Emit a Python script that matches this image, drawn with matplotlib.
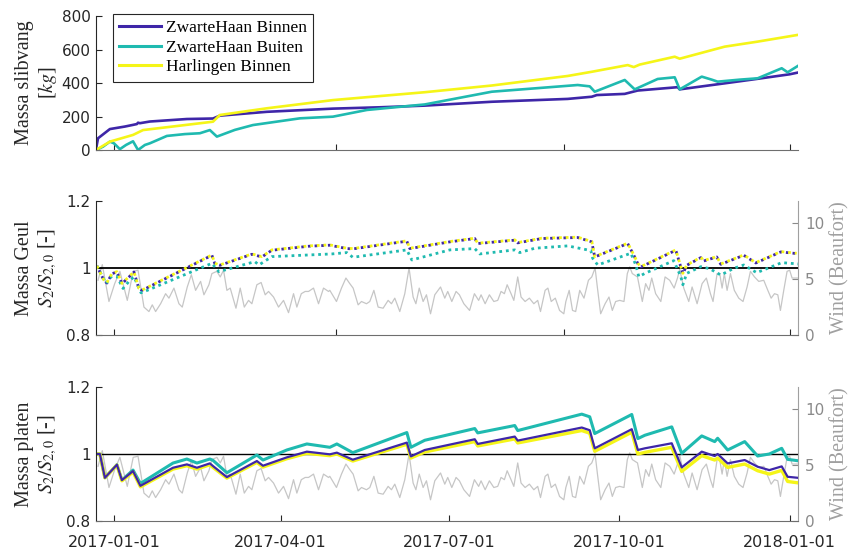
import numpy as np
import pandas as pd
import matplotlib
matplotlib.use('Agg')
import matplotlib.pyplot as plt

# ---------------- data (days since 2017-01-01) ----------------
mass_days_binnen = [-9.7, -8.6, -2.2, 5.9, 10.3, 12.4, 13.0, 14.0, 19.4, 39.4, 53.5, 57.2, 82.6, 118.3,
                    143.6, 167.9, 204.1, 245.1, 258.1, 260.8, 275.9, 282.9, 304.5, 305.6, 316.4, 329.9,
                    347.7, 365.0, 369.3]
mass_binnen = [5, 70, 125, 140, 150, 155, 163, 160, 170, 185, 188, 205, 228, 247,
               255, 265, 288, 305, 318, 328, 335, 355, 375, 362, 378, 398, 425, 452, 462]

mass_days_buiten = [-9.7, -5.9, -2.2, 0, 3.2, 6.5, 10.3, 13.0, 16.7, 19.4, 28.6, 38.3, 46.4, 51.8, 55.6,
                    65.3, 75.1, 100.4, 118.3, 136.6, 167.9, 204.1, 250.5, 257.0, 259.7, 275.9, 281.3,
                    293.7, 302.9, 305.6, 317.5, 322.9, 326.1, 338.0, 347.7, 360.7, 363.9, 369.3]
mass_buiten = [0, 20, 50, 40, 5, 30, 52, 0, 30, 40, 84, 95, 100, 119, 80,
               120, 149, 189, 199, 239, 272, 348, 388, 380, 348, 418, 362,
               424, 434, 362, 438, 420, 408, 420, 428, 488, 464, 501]

mass_days_harl = [-9.7, -2.2, 10.3, 15.7, 53.5, 57.2, 82.6, 118.3, 167.9, 204.1, 245.1, 258.1, 277.5,
                  280.8, 284.0, 302.9, 305.6, 329.9, 347.7, 369.3]
mass_harl = [0, 50, 90, 119, 169, 209, 249, 298, 345, 385, 442, 467, 507,
             495, 510, 557, 545, 617, 647, 687]

geul_days = [-9.2, -5.4, -3.8, -1.1, 1.6, 4.3, 8.1, 10.8, 13.5, 15.1, 52.9, 54.5, 57.2, 74.5, 79.9,
             85.3, 105.3, 116.6, 125.8, 129.0, 158.2, 159.8, 181.4, 194.9, 196.5, 216.5, 218.1, 231.1,
             250.5, 258.1, 259.7, 277.5, 280.8, 283.0, 284.6, 303.5, 306.2, 307.3, 309.4, 317.0, 318.6,
             325.6, 327.8, 340.2, 346.7, 360.2, 368.8]
geul_harl = [1.006, 0.964, 0.956, 0.984, 0.989, 0.954, 0.974, 0.989, 0.939, 0.934, 1.039, 1.014, 1.009,
             1.042, 1.034, 1.054, 1.066, 1.069, 1.059, 1.058, 1.081, 1.059, 1.079, 1.089, 1.074, 1.084,
             1.076, 1.089, 1.092, 1.079, 1.034, 1.074, 1.039, 1.014, 1.004, 1.054, 1.004, 0.984, 1.009,
             1.032, 1.022, 1.034, 1.012, 1.039, 1.016, 1.049, 1.044]
geul_binnen = [1.006, 0.963, 0.955, 0.983, 0.988, 0.953, 0.973, 0.988, 0.938, 0.933, 1.038, 1.013, 1.008,
               1.041, 1.033, 1.053, 1.065, 1.068, 1.058, 1.057, 1.080, 1.058, 1.078, 1.088, 1.073, 1.083,
               1.075, 1.088, 1.091, 1.078, 1.033, 1.073, 1.038, 1.013, 1.003, 1.053, 1.003, 0.983, 1.008,
               1.031, 1.021, 1.033, 1.011, 1.038, 1.015, 1.048, 1.043]

geul_days_buiten = [-9.2, -4.3, -1.1, 1.6, 4.9, 8.1, 10.8, 14.6, 15.7, 52.9, 56.7, 59.9, 76.1, 78.3, 85.3,
                    117.7, 125.8, 129.0, 158.2, 160.9, 181.4, 194.9, 197.6, 216.5, 219.2, 227.3, 245.1,
                    257.6, 258.6, 261.3, 279.2, 281.9, 283.5, 286.8, 302.4, 306.2, 307.3, 309.4, 317.0,
                    321.8, 327.8, 334.8, 340.2, 347.2, 360.7, 369.9]
geul_buiten = [1.006, 0.954, 0.976, 0.975, 0.939, 0.960, 0.974, 0.926, 0.928, 1.014, 0.989, 0.994, 1.019,
               1.009, 1.034, 1.042, 1.046, 1.032, 1.054, 1.024, 1.054, 1.058, 1.042, 1.054, 1.046, 1.059,
               1.066, 1.052, 1.029, 1.009, 1.044, 1.009, 0.974, 0.984, 1.022, 0.974, 0.950, 0.984, 1.004,
               0.998, 0.979, 0.999, 1.009, 0.986, 1.016, 1.012]

platen_days = [-9.2, -7.6, -4.9, 1.6, 4.3, 10.3, 14.3, 31.9, 39.4, 44.8, 51.8, 53.5, 61.0, 77.2, 80.5,
               93.4, 104.2, 116.6, 120.4, 129.0, 158.2, 160.4, 167.9, 194.9, 196.5, 216.5, 218.1, 252.7,
               257.0, 259.7, 279.7, 283.0, 286.8, 301.3, 306.7, 317.5, 324.5, 326.1, 331.5, 340.7, 347.7,
               354.0, 360.7, 363.9, 369.3]
platen_buiten = [1.0, 1.0, 0.929, 0.968, 0.922, 0.952, 0.912, 0.973, 0.985, 0.973, 0.985, 0.981, 0.944,
                 0.997, 0.982, 1.012, 1.030, 1.020, 1.030, 1.004, 1.064, 1.020, 1.041, 1.076, 1.063, 1.085,
                 1.070, 1.119, 1.111, 1.061, 1.118, 1.046, 1.056, 1.081, 1.002, 1.054, 1.037, 1.047, 1.012,
                 1.037, 0.994, 1.000, 1.017, 0.984, 0.980]
platen_binnen = [1.0, 1.0, 0.929, 0.968, 0.922, 0.949, 0.905, 0.959, 0.969, 0.959, 0.972, 0.964, 0.931,
                 0.979, 0.965, 0.990, 1.007, 0.999, 1.004, 0.983, 1.034, 0.993, 1.012, 1.044, 1.030, 1.052,
                 1.040, 1.079, 1.071, 1.017, 1.074, 1.012, 1.017, 1.032, 0.960, 1.007, 0.994, 1.000, 0.972,
                 0.982, 0.962, 0.952, 0.963, 0.932, 0.929]
platen_harl = [1.0, 1.0, 0.929, 0.967, 0.920, 0.946, 0.902, 0.955, 0.965, 0.955, 0.968, 0.960, 0.928,
               0.975, 0.961, 0.986, 1.002, 0.995, 1.000, 0.979, 1.029, 0.988, 1.006, 1.037, 1.024, 1.045,
               1.033, 1.070, 1.062, 1.008, 1.065, 1.000, 1.005, 1.020, 0.948, 0.995, 0.982, 0.988, 0.960,
               0.970, 0.950, 0.940, 0.951, 0.918, 0.914]

wind_days = [-8.6, -6.3, -2.7, 0.4, 3.2, 7.2, 10.4, 13.0, 16.2, 18.9, 20.7, 22.5, 25.2, 27.9, 29.7, 32.4,
             35.1, 36.9, 39.6, 41.8, 44.1, 46.8, 48.6, 51.3,
             52.9, 55.6, 57.4, 59.2, 61.0, 62.8, 65.9, 68.2, 70.4, 72.7, 74.5, 77.2, 79.5, 81.7, 83.5, 86.2,
             88.9, 91.6, 94.3, 97.0, 98.8, 101.2, 103.3, 105.1, 107.8, 110.5, 113.2, 115.9,
             116.6, 120.2, 122.9, 125.3, 127.4, 129.2, 131.9, 133.7, 136.4, 138.2, 140.4, 142.7, 145.4,
             148.1, 149.9, 151.7, 154.4, 157.1, 159.4, 161.6, 163.1, 164.9, 167.0, 168.8, 171.0, 173.3,
             176.4, 178.7,
             180.3, 182.5, 184.8, 186.6, 189.0, 192.1, 194.7, 197.0, 198.3, 200.5, 202.8, 205.2, 207.3,
             209.1, 210.9, 212.4, 214.5, 216.0, 218.1, 219.9, 222.1, 224.4, 226.8, 228.9, 230.4, 232.9,
             234.4, 236.2, 238.4, 240.7, 243.0,
             244.1, 245.9, 247.7, 249.4, 251.6, 253.9, 256.3, 258.1, 259.9, 261.1, 262.9, 265.3, 267.4,
             269.2, 271.0, 273.2, 275.5, 277.3, 278.6, 280.0, 282.8, 285.4, 287.2, 289.0, 290.5, 292.6,
             295.4, 297.7, 300.2, 302.6, 304.4, 305.6,
             307.8, 310.5, 312.3, 315.0, 317.7, 320.0, 322.2, 323.6, 325.8, 327.2, 328.5, 329.7, 331.2,
             333.0, 335.1, 337.5, 339.8, 342.0, 343.8, 346.0, 348.3, 351.0, 353.2, 355.0, 356.8, 358.6,
             360.0, 361.8, 363.6, 365.0, 366.3, 369.5]
wind = [4.9, 6.3, 3.0, 4.6, 5.7, 3.1, 5.7, 5.8, 2.5, 2.1, 2.7, 2.1, 2.8, 3.7, 3.3, 4.2,
        2.8, 2.5, 4.3, 5.4, 4.0, 4.8, 3.6, 4.5,
        5.5, 5.7, 5.2, 5.8, 4.0, 4.2, 2.4, 4.2, 2.5, 3.1, 2.8, 4.5, 4.7, 3.6, 3.9, 3.4,
        2.5, 3.1, 2.0, 3.7, 2.5, 3.7, 3.9, 3.9, 4.2, 2.8, 4.2, 3.9,
        4.0, 3.0, 4.2, 5.1, 4.6, 4.2, 2.7, 3.0, 2.8, 3.0, 4.0, 2.5, 2.4,
        3.1, 2.8, 3.3, 2.1, 3.7, 6.0, 3.4, 2.8, 4.2, 3.0, 3.6, 1.9, 3.6,
        4.3, 3.3,
        3.9, 3.0, 3.9, 3.6, 2.8, 2.2, 3.7, 3.1, 3.6, 2.8, 3.6, 3.0, 3.1,
        3.9, 3.7, 4.5, 3.7, 3.1, 5.2, 3.4, 3.0, 3.3, 2.8, 3.1, 2.1, 4.0,
        4.2, 3.0, 3.3, 2.2, 1.9,
        3.0, 4.0, 2.2, 2.1, 4.0, 3.3, 4.9, 5.2, 6.0, 4.3, 1.9, 2.8, 3.4,
        2.2, 3.0, 3.1, 3.0, 5.5, 6.1, 5.5, 5.2, 3.0, 4.6, 4.0, 5.1, 3.7,
        3.0, 5.2, 4.9, 4.2, 5.1, 5.9,
        4.2, 3.0, 4.3, 2.8, 4.6, 5.1, 3.7, 3.0, 5.5, 5.5, 4.2, 5.5, 4.0,
        5.5, 4.0, 3.3, 3.0, 4.3, 5.7, 5.2, 4.8, 4.9, 4.0, 3.3, 3.7, 3.6,
        2.2, 4.0, 5.7, 5.8, 5.1, 5.1]

series_labels = ['ZwarteHaan Binnen', 'ZwarteHaan Buiten', 'Harlingen Binnen']
ticks_top = ['2017-01-01', '2017-05-01', '2017-09-01', '2018-01-01']
ticks_bottom = ['2017-01-01', '2017-04-01', '2017-07-01', '2017-10-01', '2018-01-01']
xlim_days = [-9.7, 369.5]

# ---------------- style ----------------
C_PURPLE = '#3e26a8'
C_TEAL = '#1fbab0'
C_YELLOW = '#f5f518'
C_WIND = '#c6c6c6'
C_TXT = '#262626'
C_RGT = '#8a8a8a'

plt.rcParams['font.family'] = ['DejaVu Sans']
plt.rcParams['mathtext.fontset'] = 'stix'
SERIF = ['Liberation Serif', 'DejaVu Serif']

base = pd.Timestamp('2017-01-01')


def D(days):
    return base + pd.to_timedelta(np.asarray(days, float), unit='D')


fig = plt.figure(figsize=(8.5, 5.49), dpi=100)
W, H = 850.0, 549.0
L, R = 96, 798


def make_ax(top, bottom):
    return fig.add_axes([L / W, 1 - bottom / H, (R - L) / W, (bottom - top) / H])


ax1 = make_ax(16, 150)
ax2 = make_ax(201, 335)
ax3 = make_ax(387, 521)


def style_left(ax):
    for s in ['top', 'right']:
        ax.spines[s].set_visible(False)
    ax.spines['left'].set_color(C_TXT)
    ax.spines['bottom'].set_color('#6e6e6e')
    ax.tick_params(direction='in', length=4, width=0.8, labelsize=11, colors=C_TXT, pad=4)
    ax.set_xlim(D(xlim_days))


# ---- panel 1 ----
style_left(ax1)
ax1.plot(D(mass_days_binnen), mass_binnen, color=C_PURPLE, lw=1.9, label=series_labels[0])
ax1.plot(D(mass_days_buiten), mass_buiten, color=C_TEAL, lw=1.9, label=series_labels[1])
ax1.plot(D(mass_days_harl), mass_harl, color=C_YELLOW, lw=1.9, label=series_labels[2])
ax1.set_ylim(0, 800)
ax1.set_yticks([0, 200, 400, 600, 800])
ax1.set_xticks(pd.to_datetime(ticks_top))
ax1.set_xticklabels([])
ax1.set_ylabel('Massa slibvang\n[$kg$]', family=SERIF, fontsize=14.5, color=C_TXT, linespacing=1.15)
ax1.yaxis.set_label_coords(-0.052, 0.5)
leg = ax1.legend(loc='upper left', bbox_to_anchor=(113 / W, 1 - 14 / H), bbox_transform=fig.transFigure,
                 borderaxespad=0, fancybox=False, framealpha=1, edgecolor=C_TXT,
                 prop={'family': SERIF, 'size': 12.5}, handlelength=2.4, handletextpad=0.3,
                 labelspacing=0.2, borderpad=0.35)
leg.get_frame().set_linewidth(0.8)
for h in leg.get_lines():
    h.set_linewidth(2.2)


def wind_axis(ax):
    axw = ax.twinx()
    axw.plot(D(wind_days), wind, color=C_WIND, lw=0.9)
    axw.set_ylim(0, 12)
    axw.set_yticks([0, 5, 10])
    for s in ['top', 'left', 'bottom']:
        axw.spines[s].set_visible(False)
    axw.spines['right'].set_color('#a0a0a0')
    axw.tick_params(direction='in', length=4, width=0.8, labelsize=11, colors=C_RGT, pad=5)
    axw.set_ylabel('Wind (Beaufort)', family=SERIF, fontsize=14.5, color='#a0a0a0')
    axw.yaxis.set_label_coords(1.046, 0.5)
    ax.set_zorder(axw.get_zorder() + 1)
    ax.patch.set_visible(False)
    axw.set_xlim(D(xlim_days))
    return axw


# ---- panel 2 ----
style_left(ax2)
wind_axis(ax2)
ax2.axhline(1.0, color='black', lw=1.3)
dot = (0, (1, 1.4))
ax2.plot(D(geul_days), geul_binnen, color=C_PURPLE, lw=2.0, ls=(0.7, (1, 1.4)), dash_capstyle='butt')
ax2.plot(D(geul_days_buiten), geul_buiten, color=C_TEAL, lw=2.0, ls=dot, dash_capstyle='butt')
ax2.plot(D(geul_days), geul_harl, color=C_YELLOW, lw=2.0, ls=dot, dash_capstyle='butt')
ax2.set_ylim(0.8, 1.2)
ax2.set_yticks([0.8, 1.0, 1.2])
ax2.set_yticklabels(['0.8', '1', '1.2'])
ax2.set_xticks(pd.to_datetime(ticks_top))
ax2.set_xticklabels([])
ax2.set_ylabel('Massa Geul\n$S_2/S_{2,0}$ [-]', family=SERIF, fontsize=14.5, color=C_TXT, linespacing=1.15)
ax2.yaxis.set_label_coords(-0.052, 0.5)

# ---- panel 3 ----
style_left(ax3)
wind_axis(ax3)
ax3.axhline(1.0, color='black', lw=1.0)
ax3.plot(D(platen_days), platen_buiten, color=C_TEAL, lw=2.2)
ax3.plot(D(platen_days), platen_harl, color=C_YELLOW, lw=2.4)
ax3.plot(D(platen_days), platen_binnen, color=C_PURPLE, lw=1.6)
ax3.set_ylim(0.8, 1.2)
ax3.set_yticks([0.8, 1.0, 1.2])
ax3.set_yticklabels(['0.8', '1', '1.2'])
ax3.set_xticks(pd.to_datetime(ticks_bottom))
ax3.set_xticklabels(ticks_bottom)
ax3.tick_params(axis='x', pad=10, labelsize=11.5)
ax3.set_ylabel('Massa platen\n$S_2/S_{2,0}$ [-]', family=SERIF, fontsize=14.5, color=C_TXT, linespacing=1.15)
ax3.yaxis.set_label_coords(-0.052, 0.5)

fig.savefig('out.png', dpi=100, facecolor='white')
